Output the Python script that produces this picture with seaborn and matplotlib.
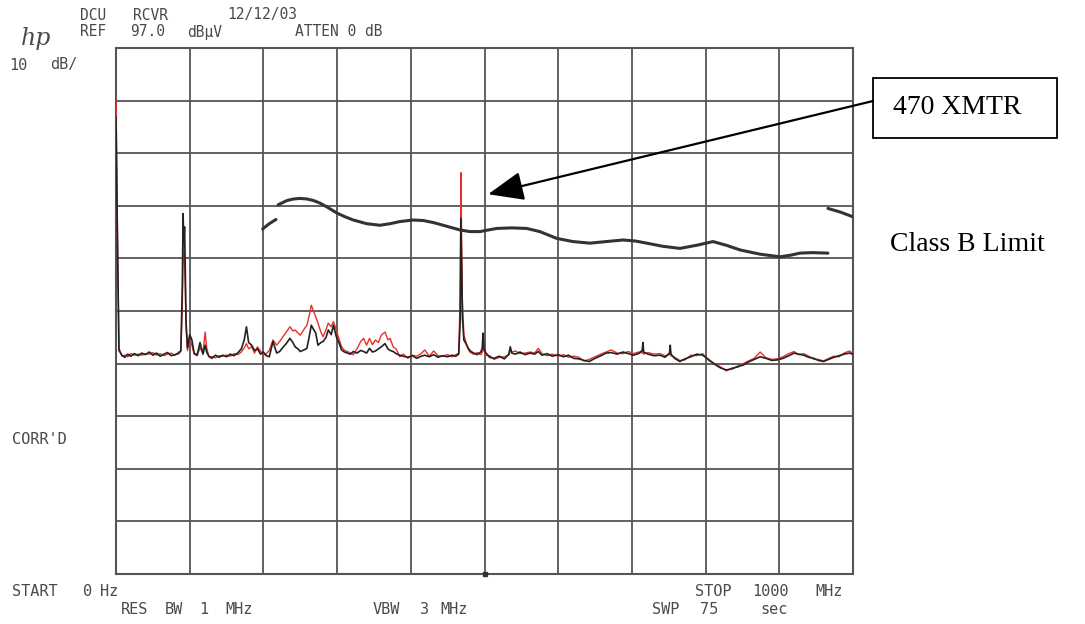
import numpy as np
import pandas as pd
import matplotlib
matplotlib.use("Agg")
import matplotlib.pyplot as plt
from matplotlib.patches import Rectangle
import seaborn as sns

# ---------------- data ----------------
freq_mhz = [
    0, 2, 4, 8, 12, 16, 20, 25, 30, 35,
    40, 45, 50, 55, 60, 65, 70, 75, 80, 85,
    88, 90, 91, 92, 93, 94, 95, 97, 100, 103,
    106, 110, 114, 118, 121, 123, 126, 130, 135, 140,
    145, 150, 155, 160, 165, 170, 174, 177, 180, 184,
    188, 192, 196, 200, 204, 208, 213, 218, 222, 226,
    231, 236, 240, 243, 247, 250, 255, 259, 262, 265,
    268, 271, 274, 278, 281, 285, 288, 292, 295, 299,
    303, 306, 310, 314, 318, 322, 327, 332, 336, 340,
    344, 348, 352, 356, 360, 365, 369, 372, 376, 380,
    385, 390, 396, 402, 408, 414, 419, 425, 431, 437,
    443, 450, 456, 461, 465, 467, 468, 469, 470, 472,
    474, 477, 480, 485, 490, 495, 497, 498, 499, 502,
    507, 513, 520, 527, 533, 535, 537, 542, 548, 555,
    562, 568, 573, 578, 585, 592, 600, 607, 614, 621,
    628, 635, 642, 650, 658, 665, 672, 680, 688, 695,
    702, 709, 714, 715, 716, 722, 730, 738, 745, 751,
    752, 753, 758, 765, 772, 780, 788, 796, 804, 812,
    820, 828, 836, 844, 851, 858, 866, 874, 882, 890,
    897, 905, 913, 920, 926, 933, 940, 947, 953, 960,
    967, 974, 981, 988, 995, 1000,
]

black_trace_dbuv = [
    84, 60, 39.5, 38.6, 38.2, 38.8, 38.4, 38.9, 38.5, 39.0,
    38.7, 39.2, 38.6, 39.0, 38.4, 38.8, 39.1, 38.5, 38.7, 38.9,
    39.5, 52, 65.5, 60, 63, 55, 45, 40, 42.5, 41.5,
    39.0, 38.6, 41.0, 38.8, 40.5, 39.2, 38.4, 38.0, 38.6, 38.2,
    38.6, 38.3, 38.8, 38.5, 39.0, 39.8, 41.5, 44.0, 41.0, 40.5,
    39.5, 39.8, 38.8, 39.2, 38.5, 38.3, 41.2, 39.0, 39.3, 40.0,
    40.8, 41.8, 41.0, 40.2, 39.8, 39.3, 39.6, 39.9, 42.0, 44.3,
    43.5, 42.8, 40.5, 41.0, 41.2, 42.0, 43.4, 42.5, 44.3, 42.1,
    40.8, 39.6, 39.2, 39.0, 38.8, 39.3, 39.0, 39.5, 39.3, 39.0,
    39.9, 39.2, 39.4, 39.8, 40.2, 40.8, 39.8, 39.5, 39.3, 38.9,
    38.6, 38.4, 38.2, 38.5, 38.0, 38.4, 38.6, 38.3, 38.7, 38.2,
    38.5, 38.3, 38.6, 38.4, 38.8, 45, 64.6, 55, 46, 41.5,
    41.0, 40.2, 39.5, 39.0, 38.7, 39.2, 40.0, 42.8, 40.0, 39.0,
    38.2, 38.0, 38.4, 37.9, 38.8, 40.2, 39.0, 38.8, 39.2, 38.7,
    39.0, 38.8, 39.3, 38.6, 38.9, 38.4, 38.7, 38.3, 38.6, 38.0,
    37.9, 37.6, 37.4, 38.0, 38.5, 39.0, 39.1, 38.8, 39.2, 38.9,
    38.6, 38.9, 39.5, 41.0, 39.2, 38.8, 38.5, 38.6, 38.2, 39.0,
    40.5, 38.8, 38.0, 37.4, 37.9, 38.3, 38.8, 38.6, 37.8, 36.9,
    36.2, 35.8, 36.0, 36.5, 36.7, 37.3, 37.8, 38.3, 38.0, 37.6,
    37.7, 38.0, 38.5, 39.0, 38.8, 38.6, 38.2, 38.0, 37.6, 37.4,
    37.8, 38.2, 38.5, 38.8, 39.0, 38.8,
]

red_trace_dbuv = [
    87, 62, 40.0, 38.4, 38.6, 38.3, 38.9, 38.6, 38.8, 38.6,
    38.9, 38.8, 39.1, 38.6, 38.9, 38.5, 38.8, 39.0, 38.6, 39.2,
    39.3, 48, 58, 60, 56, 52, 44, 39.5, 41.5, 40.5,
    38.8, 38.5, 40.0, 39.0, 43.0, 40.0, 38.3, 38.3, 38.1, 38.5,
    38.4, 38.6, 38.4, 38.9, 38.7, 39.2, 40.0, 40.8, 39.8, 40.2,
    39.0, 40.2, 39.4, 38.6, 38.9, 39.5, 41.5, 40.5, 41.2, 42.0,
    43.0, 44.0, 43.2, 43.4, 42.8, 42.4, 43.5, 44.3, 46.0, 48.1,
    47.0, 45.9, 44.7, 43.0, 42.1, 43.5, 44.7, 44.0, 45.0, 43.4,
    41.5, 40.2, 39.5, 39.3, 39.0, 38.7, 39.8, 41.2, 41.8, 40.5,
    41.8, 40.6, 41.5, 41.0, 42.4, 43.0, 41.5, 41.8, 40.2, 39.8,
    38.3, 38.8, 38.0, 38.6, 38.4, 38.9, 39.6, 38.4, 39.4, 38.5,
    38.4, 38.7, 38.3, 38.7, 39.0, 50, 73.3, 60, 49, 42.5,
    41.5, 40.0, 39.2, 38.8, 39.1, 38.7, 39.2, 41.0, 39.5, 38.6,
    38.5, 37.8, 38.2, 38.3, 38.6, 39.5, 39.2, 39.4, 38.9, 39.0,
    39.2, 39.0, 39.9, 38.9, 38.5, 38.8, 38.4, 38.7, 38.2, 38.4,
    38.2, 37.5, 37.8, 38.3, 38.8, 39.2, 39.6, 39.0, 38.9, 39.3,
    38.9, 39.2, 39.0, 39.5, 38.8, 39.1, 38.8, 38.9, 38.5, 38.7,
    39.0, 38.5, 38.2, 37.6, 37.7, 38.6, 38.5, 38.9, 37.6, 37.0,
    36.4, 35.6, 36.2, 36.3, 37.0, 37.5, 38.0, 39.2, 38.1, 37.8,
    37.9, 38.3, 38.9, 39.3, 38.7, 38.9, 38.4, 37.8, 37.8, 37.5,
    38.0, 38.4, 38.3, 39.0, 39.4, 38.9,
]

# Class B limit, drawn as three separate pieces
limit_freq_1 = [199, 208, 217]
limit_dbuv_1 = [62.6, 63.6, 64.4]
limit_freq_2 = [220, 232, 241, 250, 259, 268, 277, 286, 300, 311, 322, 340,
                358, 372, 385, 403, 417, 431, 449, 467, 480, 494, 505, 517,
                537, 557, 575, 598, 620, 643, 665, 688, 705, 720, 742, 765,
                788, 810, 828, 847, 874, 901, 915, 928, 945, 966]
limit_dbuv_2 = [67.2, 68.0, 68.3, 68.4, 68.3, 68.0, 67.5, 66.8, 65.6, 64.9,
                64.3, 63.6, 63.3, 63.6, 64.0, 64.3, 64.2, 63.8, 63.1, 62.4,
                62.1, 62.1, 62.4, 62.7, 62.8, 62.7, 62.1, 60.8, 60.2, 59.9,
                60.2, 60.5, 60.3, 59.9, 59.3, 58.9, 59.5, 60.2, 59.5, 58.6,
                57.8, 57.3, 57.6, 58.0, 58.1, 58.0]
limit_freq_3 = [966, 983, 1000]
limit_dbuv_3 = [66.5, 65.8, 64.9]

ref_level = 97.0
db_per_div = 10
start_mhz, stop_mhz = 0, 1000
center_mhz = 500
xmtr_target = (505, 69.2)   # where the arrow points (MHz, dBuV)

# ---------------- figure ----------------
sns.set_theme(style="white")
plt.rcParams["font.family"] = ["DejaVu Sans Mono", "DejaVu Sans"]

W, H = 1085, 624
fig = plt.figure(figsize=(W / 100, H / 100), dpi=100, facecolor="white")
ax = fig.add_axes([116 / W, 50 / H, 737 / W, 526 / H])
ax.set_facecolor("white")

grid_c = "#555555"
ybot = ref_level - 10 * db_per_div
ax.set_xlim(start_mhz, stop_mhz)
ax.set_ylim(ybot, ref_level)
ax.set_xticks(np.arange(start_mhz, stop_mhz + 1, 100))
ax.set_yticks(np.arange(ybot, ref_level + 0.1, db_per_div))
ax.set_xticklabels([])
ax.set_yticklabels([])
ax.tick_params(length=0)
ax.grid(True, color=grid_c, lw=1.3)
for s in ax.spines.values():
    s.set_color(grid_c)
    s.set_linewidth(1.5)

traces = pd.DataFrame({"f": freq_mhz, "black": black_trace_dbuv, "red": red_trace_dbuv})
sns.lineplot(data=traces, x="f", y="red", ax=ax, color="#e8302b", lw=1.0,
             estimator=None, sort=False, zorder=3)
sns.lineplot(data=traces, x="f", y="black", ax=ax, color="#222222", lw=1.2,
             estimator=None, sort=False, zorder=4)

limit = pd.concat([
    pd.DataFrame({"f": limit_freq_1, "db": limit_dbuv_1, "seg": 1}),
    pd.DataFrame({"f": limit_freq_2, "db": limit_dbuv_2, "seg": 2}),
    pd.DataFrame({"f": limit_freq_3, "db": limit_dbuv_3, "seg": 3}),
])
sns.lineplot(data=limit, x="f", y="db", units="seg", estimator=None, sort=False,
             ax=ax, color="#333333", lw=2.2, zorder=5)

# centre-frequency marker on the bottom edge
ax.plot([center_mhz], [ybot], marker="s", ms=3.5, color="#333333",
        clip_on=False, zorder=6)
ax.set_xlabel("")
ax.set_ylabel("")

# ---------------- instrument annotations ----------------
tc = "#4a4a4a"
fs = 11


def ftext(x, y, s, **kw):
    fig.text(x / W, 1 - y / H, s, color=tc, fontsize=kw.pop("fontsize", fs),
             ha=kw.pop("ha", "left"), va="center", **kw)


ftext(80, 15, "DCU", fontsize=10.5)
ftext(133, 15, "RCVR", fontsize=10.5)
ftext(227, 15, "12/12/03", fontsize=10.5)
ftext(80, 32, "REF", fontsize=10.5)
ftext(130, 32, "97.0", fontsize=10.5)
ftext(187, 32, "dBµV", fontsize=10.5)
ftext(295, 32, "ATTEN 0 dB", fontsize=10.5)
ftext(21, 38, "hp", fontsize=17, family="DejaVu Serif", style="italic")
ftext(9, 65, "10")
ftext(50, 65, "dB/")
ftext(12, 440, "CORR'D")
ftext(12, 591, "START")
ftext(83, 591, "0")
ftext(100, 591, "Hz")
ftext(695, 591, "STOP")
ftext(752, 591, "1000")
ftext(815, 591, "MHz")
ftext(121, 609, "RES")
ftext(165, 609, "BW")
ftext(199, 609, "1")
ftext(225, 609, "MHz")
ftext(373, 609, "VBW")
ftext(420, 609, "3")
ftext(440, 609, "MHz")
ftext(652, 609, "SWP")
ftext(700, 609, "75")
ftext(760, 609, "sec")

# ---------------- callouts ----------------
serif = ["Liberation Serif", "DejaVu Serif"]
fig.patches.append(Rectangle((873 / W, 1 - 138 / H), 184 / W, 60 / H,
                             transform=fig.transFigure, fill=False,
                             edgecolor="black", lw=1.3))
fig.text(893 / W, 1 - 108 / H, "470 XMTR", family=serif, fontsize=20,
         color="black", ha="left", va="center")
fig.text(890 / W, 1 - 245 / H, "Class B Limit", family=serif, fontsize=20,
         color="black", ha="left", va="center")
ax.annotate("", xy=xmtr_target, xycoords="data",
            xytext=(873, H - 101), textcoords="figure pixels",
            arrowprops=dict(arrowstyle="-|>,head_length=1.1,head_width=0.45",
                            mutation_scale=20, color="black", lw=1.6,
                            shrinkA=0, shrinkB=0),
            annotation_clip=False, zorder=6)

fig.savefig("out.png", dpi=100, facecolor="white")
